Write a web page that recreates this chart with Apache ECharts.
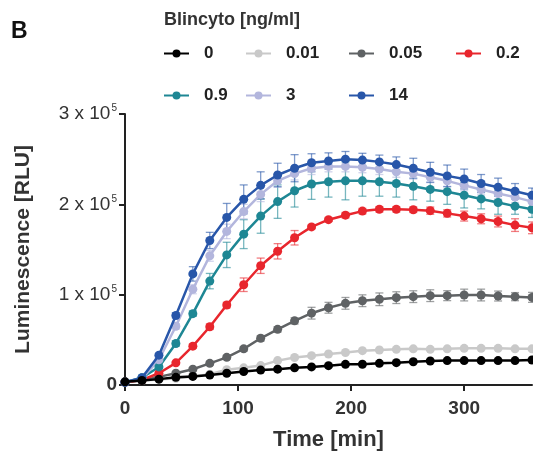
<!DOCTYPE html>
<html>
<head>
<meta charset="utf-8">
<script src="https://cdn.jsdelivr.net/npm/echarts@6/dist/echarts.min.js"></script>
<style>
  html, body { margin: 0; padding: 0; background: #fff; }
  #chart { width: 533px; height: 451px; }
</style>
</head>
<body>
<div id="chart"></div>
<script>
// time points [min]
var times = [0, 15, 30, 45, 60, 75, 90, 105, 120, 135, 150, 165, 180, 195, 210, 225, 240, 255, 270, 285, 300, 315, 330, 345, 360]
var xTicks = [0, 100, 200, 300]

// luminescence, in thousands of RLU, one array per Blincyto dose
var dose0 = [3.5, 5, 6.5, 8.5, 9.5, 11, 13, 15, 16.5, 17.5, 19, 20, 21.4, 22.9, 23, 24, 24.7, 25.8, 26.6, 27, 27, 27, 27, 27, 27.7]
var dose001 = [3.5, 5, 6, 7.5, 9.5, 12, 17, 19, 21.5, 27, 30.5, 32.5, 34.3, 36, 38, 38.7, 39.5, 40, 39.5, 40, 40.6, 40.6, 40.6, 40, 40]
var dose005 = [3.5, 5, 9, 13, 17.4, 24, 30.6, 40, 51.7, 61.6, 71, 79.5, 85.5, 90.4, 93.3, 94.9, 96.7, 97.8, 98.9, 98.9, 99.6, 99.6, 98.5, 97.8, 97]
var dose02 = [3, 5.5, 13, 24.5, 43, 64.5, 88.5, 111, 132, 148, 163, 175, 183, 188, 192.5, 194.5, 194.5, 194, 193, 190, 187, 184, 181, 177, 174]
var dose09 = [3, 8, 20, 46, 79, 115, 144, 167, 187, 203, 215, 222.5, 225, 226, 226, 225, 223, 220, 216.5, 214, 210, 206, 202, 198, 194.5]
var dose3 = [3, 7, 28, 65, 106, 143, 170, 192, 211, 226, 234, 240, 242, 242, 241, 239, 236, 234, 230, 226, 221, 216.5, 212, 208, 203]
var dose14 = [3, 8, 33, 77, 123, 160, 185.5, 205.5, 221, 232.5, 240, 246, 248, 250, 249, 247, 244, 240, 235.5, 231.5, 228, 223, 219, 214.5, 210]

// error bars (+/-), thousands of RLU
var err005 = [0, 0.5, 1, 1, 1.5, 2, 2, 2.5, 3, 3, 3.5, 6.5, 6, 6.5, 6.5, 7, 6.5, 6.5, 6.5, 5.5, 6.5, 6.5, 5.5, 4.5, 5.5]
var err02 = [0, 0.5, 1, 1.5, 2.5, 3, 3, 7.5, 8.5, 8.5, 8, 2, 2, 3, 3, 3, 3, 3, 4, 4, 5.5, 5.5, 6, 7, 6.5]
var err09 = [0, 1, 2, 3, 3, 8.5, 14, 16, 19, 18.5, 18, 17, 17, 21, 17, 16, 15, 15, 13, 14, 14, 11, 13, 9, 9]
var err3 = [0, 1, 2, 3, 5, 6, 8, 8, 8, 7, 7, 7, 6, 6, 6, 6, 6, 6, 6, 6, 6, 6, 6, 6, 6]
var err14 = [0, 1, 2, 3, 8, 9, 15.5, 16, 15, 13, 15, 10, 9, 8.5, 7.5, 7.5, 8.5, 11, 11, 12, 11, 10, 10, 8.5, 8]

var doseNames = ['0', '0.01', '0.05', '0.2', '0.9', '3', '14']
var colors = ['#000000', '#c9c9c9', '#5f6264', '#e8262d', '#1e8794', '#b3b6dd', '#2856a9']

var FONT = 'Arial, "Liberation Sans", sans-serif'

var chart = echarts.init(document.getElementById('chart'))

function toPairs(vals) {
  return times.map(function(t, i) { return [t, vals[i] * 1000] })
}
function toErr(vals, err) {
  return times.map(function(t, i) {
    return [t, (vals[i] - err[i]) * 1000, (vals[i] + err[i]) * 1000]
  })
}

function errSeries(vals, err, color) {
  return {
    type: 'custom',
    silent: true,
    z: 1,
    data: toErr(vals, err),
    encode: { x: 0, y: [1, 2] },
    renderItem: function(params, api) {
      var lo = api.coord([api.value(0), api.value(1)])
      var hi = api.coord([api.value(0), api.value(2)])
      var w = 4
      var st = { stroke: color, lineWidth: 1.3, opacity: 0.6 }
      return {
        type: 'group',
        children: [
          { type: 'line', shape: { x1: lo[0], y1: lo[1], x2: hi[0], y2: hi[1] }, style: st },
          { type: 'line', shape: { x1: lo[0] - w, y1: lo[1], x2: lo[0] + w, y2: lo[1] }, style: st },
          { type: 'line', shape: { x1: hi[0] - w, y1: hi[1], x2: hi[0] + w, y2: hi[1] }, style: st }
        ]
      }
    }
  }
}

function lineSeries(name, vals, color, z) {
  return {
    name: name,
    type: 'line',
    data: toPairs(vals),
    symbol: 'circle',
    symbolSize: 9,
    z: z,
    lineStyle: { color: color, width: 2.5 },
    itemStyle: { color: color },
    emphasis: { disabled: true }
  }
}

var allVals = [dose0, dose001, dose005, dose02, dose09, dose3, dose14]
var series = [
  errSeries(dose005, err005, colors[2]),
  errSeries(dose02, err02, colors[3]),
  errSeries(dose09, err09, colors[4]),
  errSeries(dose3, err3, colors[5]),
  errSeries(dose14, err14, colors[6])
]
var zs = [9, 3, 3, 3, 3, 3, 4]
doseNames.forEach(function(n, i) {
  series.push(lineSeries(n, allVals[i], colors[i], zs[i]))
})

// legend, one block per entry
var legendPos = [[163, 45], [245, 45], [348, 45], [455, 45], [163, 87], [245, 87], [348, 87]]
var legends = doseNames.map(function(n, i) {
  return {
    data: [n],
    left: legendPos[i][0],
    top: legendPos[i][1],
    padding: 0,
    itemWidth: 25,
    itemHeight: 10,
    selectedMode: false,
    textStyle: { fontFamily: FONT, fontSize: 17, fontWeight: 'bold', color: '#222', padding: [0, 0, 0, 10] }
  }
})

chart.setOption({
  animation: false,
  color: colors,
  title: [
    { text: 'B', left: 11, top: 20, padding: 0, textStyle: { fontFamily: FONT, fontSize: 23, fontWeight: 'bold', color: '#111' } },
    { text: 'Blincyto [ng/ml]', left: 164, top: 11, padding: 0, textStyle: { fontFamily: FONT, fontSize: 18, fontWeight: 'bold', color: '#333' } }
  ],
  legend: legends,
  grid: { left: 125, right: 1, top: 114, bottom: 66, outerBoundsMode: 'none' },
  xAxis: {
    type: 'value',
    min: 0,
    max: 360,
    name: 'Time [min]',
    nameLocation: 'middle',
    nameGap: 44,
    nameTextStyle: { fontFamily: FONT, fontSize: 22, fontWeight: 'bold', color: '#333' },
    axisLine: { lineStyle: { color: '#222', width: 2 } },
    axisTick: { customValues: xTicks, length: 6, lineStyle: { color: '#222', width: 2 } },
    axisLabel: { customValues: xTicks, margin: 14, fontFamily: FONT, fontSize: 19, fontWeight: 'bold', color: '#333' },
    splitLine: { show: false }
  },
  yAxis: {
    type: 'value',
    min: 0,
    max: 300000,
    interval: 100000,
    name: 'Luminescence [RLU]',
    nameLocation: 'middle',
    nameGap: 91,
    nameTextStyle: { fontFamily: FONT, fontSize: 21, fontWeight: 'bold', color: '#333' },
    axisLine: { show: true, lineStyle: { color: '#222', width: 2 } },
    axisTick: { show: true, length: 6, lineStyle: { color: '#222', width: 2 } },
    axisLabel: {
      margin: 8,
      formatter: function(v) {
        if (v === 0) return '{z|0}'
        return '{a|' + (v / 100000) + ' x 10}{s|5}'
      },
      rich: {
        a: { fontFamily: FONT, fontSize: 19, color: '#333' },
        z: { fontFamily: FONT, fontSize: 19, fontWeight: 'bold', color: '#333' },
        s: { fontFamily: FONT, fontSize: 10, color: '#333', padding: [0, 0, 11, 1] }
      }
    },
    splitLine: { show: false }
  },
  series: series
})
</script>
</body>
</html>
